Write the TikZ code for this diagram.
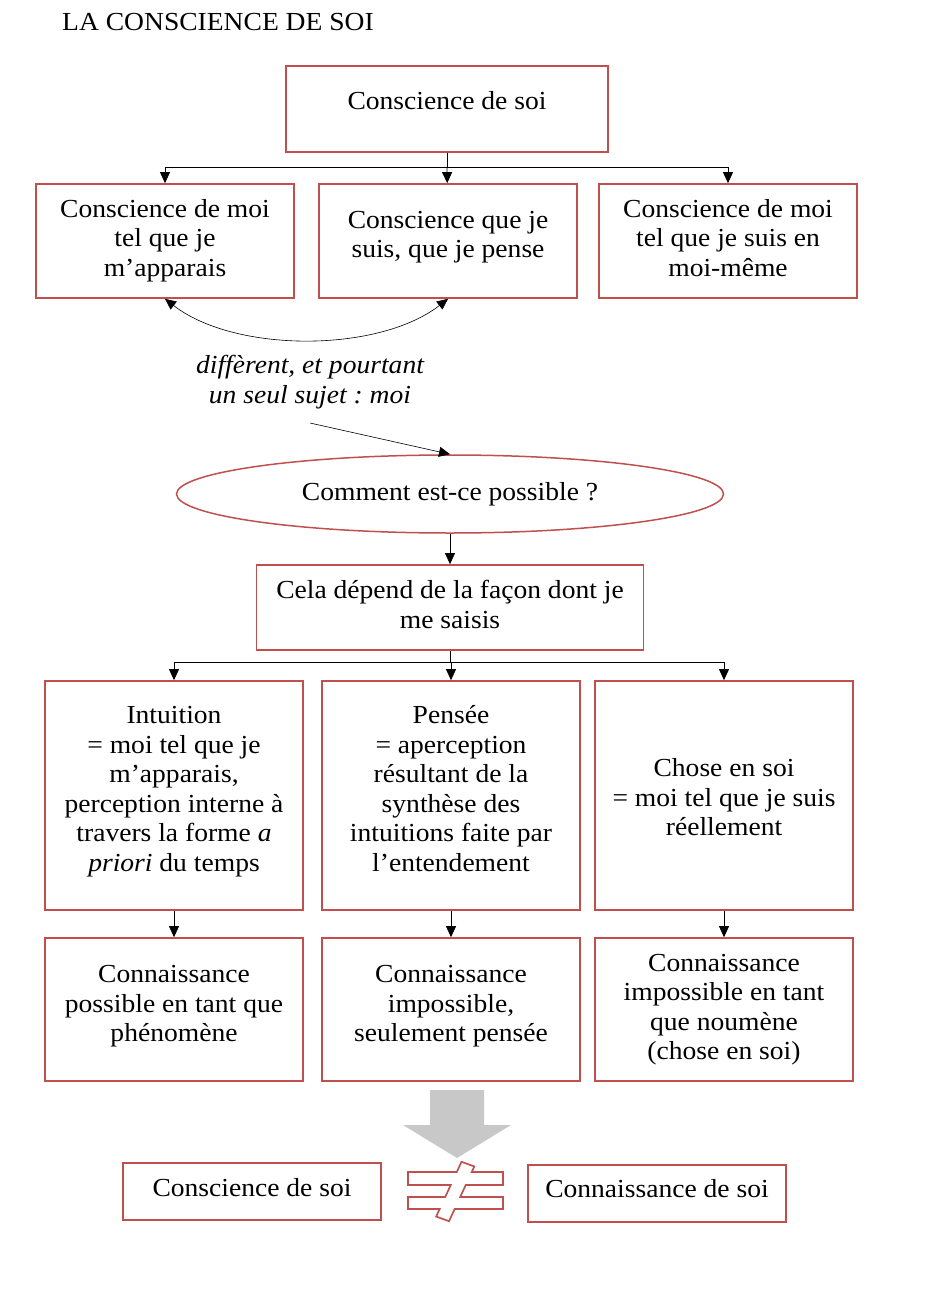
\documentclass[tikz,border=0pt]{standalone}
\usepackage{fontspec}
\setmainfont{Liberation Serif}[FakeStretch=1.06]
\usetikzlibrary{arrows.meta,shapes.geometric}
\definecolor{bred}{RGB}{192,80,77}
\definecolor{agrey}{RGB}{200,200,200}
\newcommand\boxfnt{\fontsize{26}{29.5}\selectfont}
\newcommand\tx[2]{\raisebox{#1}[\height][\depth]{\begin{tabular}{@{}c@{}}#2\end{tabular}}}
\frenchspacing
\begin{document}
\begin{tikzpicture}[x=1pt,y=-1pt,
  box/.style={draw=bred, line width=1.7pt, align=center, inner sep=0pt, font=\boxfnt},
  arr/.style={-{Triangle[length=11pt,width=10pt]}, line width=0.8pt},
  thinarr/.style={-{Triangle[length=11pt,width=10pt]}, line width=0.6pt},
  ]
\useasboundingbox (0,0) rectangle (936,1297);
\node[anchor=base west, font=\boxfnt, inner sep=0pt] (title) at (62,31) {LA CONSCIENCE DE SOI};

\node[box, minimum width=322, minimum height=86] (top) at (447,109) {\tx{5pt}{Conscience de soi}};
\node[box, minimum width=258, minimum height=114] (r1a) at (165,241) {\tx{0pt}{Conscience de moi\\tel que je\\m’apparais}};
\node[box, minimum width=258, minimum height=114] (r1b) at (448,241) {\tx{4pt}{Conscience que je\\suis, que je pense}};
\node[box, minimum width=258, minimum height=114] (r1c) at (728,241) {\tx{0pt}{Conscience de moi\\tel que je suis en\\moi-même}};
\coordinate (j1) at (447,167);
\draw[line width=1pt] (top.south) -- (j1);
\draw[arr] (j1) -| (r1a);
\draw[arr] (j1) -- (r1b);
\draw[arr] (j1) -| (r1c);

\draw[{Triangle[length=11pt,width=10pt]}-{Triangle[length=11pt,width=10pt]}, line width=0.6pt]
  (r1a.south) .. controls (235,353) and (378,353) .. (r1b.south);

\node[font=\boxfnt\itshape, align=center, inner sep=0pt] (note) at (310,382) {diffèrent, et pourtant\\un seul sujet : moi};
\coordinate (ns) at (310,423);

\node[ellipse, draw=bred, line width=1.5pt, minimum width=547, minimum height=78, inner sep=0pt, font=\boxfnt] (ell) at (450,494) {Comment est-ce possible ?};
\draw[thinarr] (ns) -- (ell.north);

\node[box, minimum width=387, minimum height=85] (cela) at (450,607.5) {\tx{0pt}{Cela dépend de la façon dont je\\me saisis}};
\draw[thinarr] (ell.south) -- (cela.north);

\node[box, minimum width=258, minimum height=229] (r2a) at (174,795.5) {\tx{4pt}{Intuition\\= moi tel que je\\m’apparais,\\perception interne à\\travers la forme \textit{a}\\\textit{priori} du temps}};
\node[box, minimum width=258, minimum height=229] (r2b) at (451,795.5) {\tx{4pt}{Pensée\\= aperception\\résultant de la\\synthèse des\\intuitions faite par\\l’entendement}};
\node[box, minimum width=258, minimum height=229] (r2c) at (724,795.5) {\tx{-5pt}{Chose en soi\\= moi tel que je suis\\réellement}};
\coordinate (j2) at (450,662);
\draw[line width=1pt] (cela.south) -- (j2);
\draw[arr] (j2) -| (r2a);
\draw[arr] (j2) -| (r2b);
\draw[arr] (j2) -| (r2c);

\node[box, minimum width=258, minimum height=143] (r3a) at (174,1009.5) {\tx{3pt}{Connaissance\\possible en tant que\\phénomène}};
\node[box, minimum width=258, minimum height=143] (r3b) at (451,1009.5) {\tx{3pt}{Connaissance\\impossible,\\seulement pensée}};
\node[box, minimum width=258, minimum height=143] (r3c) at (724,1009.5) {\tx{0pt}{Connaissance\\impossible en tant\\que noumène\\(chose en soi)}};
\draw[thinarr] (r2a) -- (r3a);
\draw[thinarr] (r2b) -- (r3b);
\draw[thinarr] (r2c) -- (r3c);

\fill[agrey] (430,1090) -- (484,1090) -- (484,1125) -- (511,1125) -- (457,1158) -- (403,1125) -- (430,1125) -- cycle;

\node[box, minimum width=258, minimum height=57] (bl) at (252,1191.5) {\tx{1pt}{Conscience de soi}};
\node[box, minimum width=258, minimum height=57] (br) at (657,1193.5) {\tx{2pt}{Connaissance de soi}};

\begin{scope}
  \draw[bred, line width=3.6pt, line join=miter] (409,1173) rectangle (502,1184) (409,1198) rectangle (502,1208) (462,1163) -- (473,1167) -- (448.5,1220) -- (437.5,1216) -- cycle;
  \fill[white] (409,1173) rectangle (502,1184);
  \fill[white] (409,1198) rectangle (502,1208);
  \fill[white] (462,1163) -- (473,1167) -- (448.5,1220) -- (437.5,1216) -- cycle;
\end{scope}
\end{tikzpicture}
\end{document}
